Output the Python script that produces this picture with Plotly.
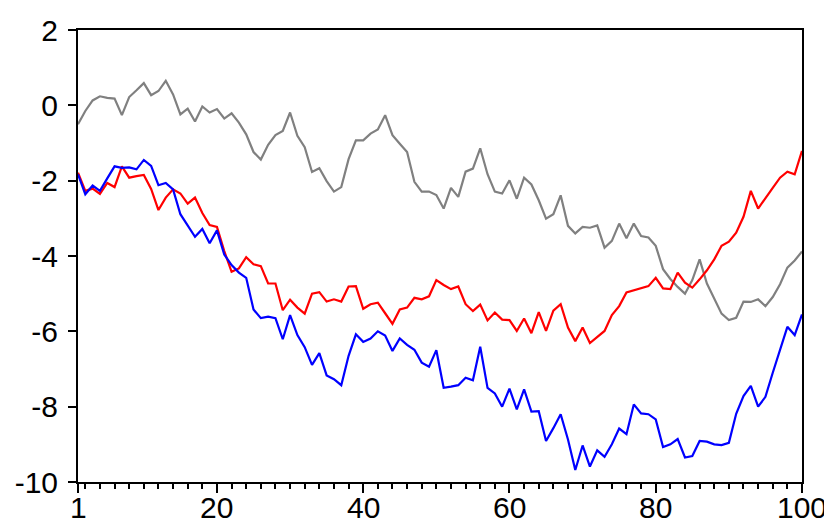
import numpy as np
import plotly.graph_objects as go

obs = list(range(1, 101))

gray_series = [
    -0.50, -0.15, 0.13, 0.24, 0.20, 0.18, -0.26, 0.22, 0.40, 0.59,
    0.27, 0.38, 0.65, 0.29, -0.24, -0.09, -0.43, -0.03, -0.19, -0.10,
    -0.35, -0.21, -0.46, -0.77, -1.24, -1.44, -1.05, -0.79, -0.68, -0.19,
    -0.81, -1.11, -1.77, -1.67, -2.01, -2.29, -2.17, -1.43, -0.93, -0.93,
    -0.75, -0.64, -0.26, -0.79, -1.02, -1.24, -2.03, -2.29, -2.29, -2.38,
    -2.74, -2.19, -2.43, -1.76, -1.68, -1.14, -1.83, -2.29, -2.34, -1.99,
    -2.48, -1.92, -2.10, -2.52, -3.01, -2.89, -2.39, -3.20, -3.40, -3.23,
    -3.25, -3.19, -3.78, -3.60, -3.14, -3.53, -3.14, -3.47, -3.51, -3.73,
    -4.35, -4.61, -4.82, -5.00, -4.64, -4.09, -4.73, -5.15, -5.53, -5.70,
    -5.64, -5.21, -5.22, -5.15, -5.33, -5.09, -4.75, -4.31, -4.12, -3.88,
]

red_series = [
    -1.79, -2.27, -2.21, -2.35, -2.06, -2.17, -1.62, -1.92, -1.88, -1.85,
    -2.22, -2.78, -2.45, -2.23, -2.34, -2.61, -2.45, -2.86, -3.18, -3.23,
    -3.87, -4.42, -4.33, -4.03, -4.22, -4.27, -4.73, -4.73, -5.44, -5.16,
    -5.37, -5.53, -5.00, -4.96, -5.21, -5.15, -5.21, -4.81, -4.80, -5.40,
    -5.28, -5.24, -5.52, -5.80, -5.42, -5.37, -5.11, -5.15, -5.07, -4.64,
    -4.77, -4.88, -4.81, -5.28, -5.46, -5.29, -5.71, -5.50, -5.69, -5.70,
    -5.99, -5.66, -6.05, -5.49, -5.99, -5.45, -5.28, -5.90, -6.26, -5.90,
    -6.31, -6.15, -5.99, -5.57, -5.33, -4.97, -4.91, -4.85, -4.80, -4.58,
    -4.86, -4.88, -4.44, -4.71, -4.84, -4.62, -4.38, -4.09, -3.73, -3.62,
    -3.38, -2.96, -2.27, -2.74, -2.45, -2.19, -1.92, -1.76, -1.83, -1.21,
]

blue_series = [
    -1.83, -2.36, -2.13, -2.27, -1.94, -1.62, -1.66, -1.65, -1.70, -1.45,
    -1.61, -2.12, -2.06, -2.23, -2.89, -3.19, -3.49, -3.28, -3.66, -3.32,
    -3.96, -4.24, -4.44, -4.58, -5.42, -5.65, -5.61, -5.65, -6.21, -5.57,
    -6.10, -6.42, -6.89, -6.58, -7.17, -7.27, -7.43, -6.65, -6.08, -6.28,
    -6.19, -6.00, -6.11, -6.52, -6.19, -6.36, -6.49, -6.83, -6.94, -6.50,
    -7.50, -7.47, -7.43, -7.23, -7.30, -6.41, -7.50, -7.65, -8.00, -7.52,
    -8.07, -7.54, -8.13, -8.12, -8.91, -8.57, -8.20, -8.87, -9.68, -9.03,
    -9.59, -9.16, -9.33, -9.00, -8.58, -8.73, -7.94, -8.18, -8.20, -8.34,
    -9.07, -9.00, -8.86, -9.35, -9.31, -8.91, -8.93, -9.00, -9.02, -8.96,
    -8.19, -7.72, -7.45, -8.00, -7.74, -7.10, -6.48, -5.88, -6.10, -5.55,
]

x_major = [1, 20, 40, 60, 80, 100]
x_minor = list(range(2, 101, 2))
y_ticks = [2, 0, -2, -4, -6, -8, -10]

fig = go.Figure()
fig.add_trace(go.Scatter(x=obs, y=gray_series, mode="lines",
                         line=dict(color="#808080", width=2.2)))
fig.add_trace(go.Scatter(x=obs, y=red_series, mode="lines",
                         line=dict(color="#ff0000", width=2.2)))
fig.add_trace(go.Scatter(x=obs, y=blue_series, mode="lines",
                         line=dict(color="#0000ff", width=2.2)))

font = dict(family="Liberation Sans, Arial, sans-serif", size=30, color="black")

# the page body adds an 8px offset, so margins are shifted to compensate
fig.update_layout(
    width=832, height=526,
    margin=dict(l=70, r=38, t=22, b=52),
    paper_bgcolor="white", plot_bgcolor="white",
    showlegend=False,
    font=font,
)
fig.update_xaxes(
    range=[1, 100], tickmode="array", tickvals=x_major,
    showticklabels=False,
    ticks="outside", ticklen=9, tickwidth=1.5, tickcolor="black",
    minor=dict(tickmode="array", tickvals=x_minor, ticks="outside",
               ticklen=5, tickwidth=1.5, tickcolor="black"),
    showline=True, linecolor="black", linewidth=2, mirror=True,
    showgrid=False, zeroline=False, automargin=False,
)
fig.update_yaxes(
    range=[-10, 2], tickmode="array", tickvals=y_ticks,
    ticktext=[str(v) for v in y_ticks],
    ticks="outside", ticklen=8, tickwidth=1.5, tickcolor="black",
    showline=True, linecolor="black", linewidth=2, mirror=True,
    showgrid=False, zeroline=False, automargin=False,
    ticklabelstandoff=4,
)

# x tick labels as annotations so they can sit closer to the frame
for v in x_major:
    fig.add_annotation(x=v, y=0, xref="x", yref="paper", text=str(v),
                       showarrow=False, yanchor="top", yshift=-7,
                       font=font)

fig.write_html("out.html")
